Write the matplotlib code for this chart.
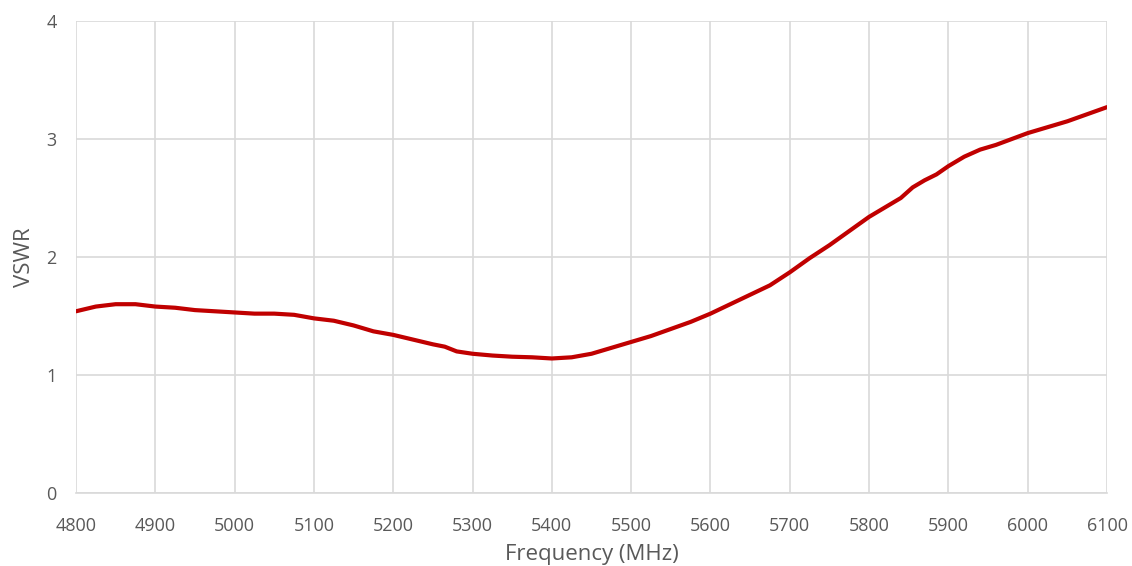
import numpy as np
import matplotlib.pyplot as plt

# 読み取ったデータ (周波数 MHz / VSWR)
freq = [4800, 4825, 4850, 4875, 4900, 4925, 4950, 4975, 5000, 5025, 5050, 5075,
        5100, 5125, 5150, 5175, 5200, 5225, 5250, 5265, 5280, 5300, 5325, 5350,
        5375, 5400, 5425, 5450, 5475, 5500, 5525, 5550, 5575, 5600, 5625, 5650,
        5675, 5700, 5725, 5750, 5775, 5800, 5820, 5840, 5855, 5870, 5885, 5900,
        5920, 5940, 5960, 5980, 6000, 6025, 6050, 6075, 6100]
vswr = [1.54, 1.58, 1.60, 1.60, 1.58, 1.57, 1.55, 1.54, 1.53, 1.52, 1.52, 1.51,
        1.48, 1.46, 1.42, 1.37, 1.34, 1.30, 1.26, 1.24, 1.20, 1.18, 1.165, 1.155,
        1.15, 1.14, 1.15, 1.18, 1.23, 1.28, 1.33, 1.39, 1.45, 1.52, 1.60, 1.68,
        1.76, 1.87, 1.99, 2.10, 2.22, 2.34, 2.42, 2.50, 2.59, 2.65, 2.70, 2.77,
        2.85, 2.91, 2.95, 3.00, 3.05, 3.10, 3.15, 3.21, 3.27]

x_ticks = [4800, 4900, 5000, 5100, 5200, 5300, 5400, 5500, 5600, 5700, 5800, 5900, 6000, 6100]
y_ticks = [0, 1, 2, 3, 4]

plt.rcParams['font.family'] = ['Open Sans', 'DejaVu Sans']

fig = plt.figure(figsize=(11.32, 5.66), dpi=100)
ax = fig.add_axes([76 / 1132, 1 - 493 / 566, (1107 - 76) / 1132, (493 - 21) / 566])

ax.plot(freq, vswr, color='#c00000', linewidth=3.0, solid_capstyle='round',
        solid_joinstyle='round', zorder=3)

ax.set_xlim(4800, 6100)
ax.set_ylim(0, 4)
ax.set_xticks(x_ticks)
ax.set_yticks(y_ticks)
ax.grid(True, color='#d9d9d9', linewidth=1.2)
ax.set_axisbelow(True)

for s in ['top', 'right', 'left']:
    ax.spines[s].set_visible(False)
ax.spines['bottom'].set_color('#d9d9d9')
ax.spines['bottom'].set_linewidth(1.2)

ax.tick_params(length=0, labelsize=13, colors='#595959')
ax.tick_params(axis='x', pad=17)
ax.tick_params(axis='y', pad=14)
ax.set_xlabel('Frequency (MHz)', fontsize=16, color='#595959', labelpad=7)
ax.set_ylabel('VSWR', fontsize=16, color='#595959', labelpad=8)

fig.savefig('out.png', dpi=100)
